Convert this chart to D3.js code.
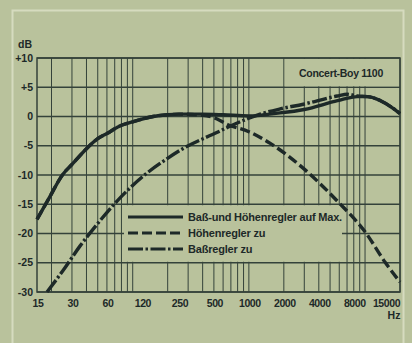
<!DOCTYPE html>
<html>
<head>
<meta charset="utf-8">
<script src="https://cdn.jsdelivr.net/npm/d3@7"></script>
<style>
  html, body { margin: 0; padding: 0; background: #b9c29c; }
  svg text { font-family: "Liberation Sans", Arial, sans-serif; font-weight: bold; fill: #1d2928; }
</style>
</head>
<body>
<div id="chart"></div>
<script>
// frequency response
var freqMax = [15, 19, 25, 30, 40, 50, 60, 80, 100, 150, 200, 250, 400, 600, 1000, 1250, 1500, 3000, 5800, 8600, 10500, 13600, 16600, 20000]
var dbMax   = [-17.6, -14.0, -9.9, -8.2, -5.5, -3.8, -2.9, -1.5, -0.9, 0.0, 0.3, 0.4, 0.4, 0.3, 0.1, 0.2, 0.4, 1.2, 2.7, 3.4, 3.4, 2.7, 1.7, 0.5]

var freqTreble = [15, 19, 25, 30, 40, 50, 60, 80, 100, 150, 200, 250, 400, 500, 660, 1000, 1530, 3000, 5800, 10000, 15000, 20000]
var dbTreble   = [-17.6, -14.0, -9.9, -8.2, -5.5, -3.8, -2.9, -1.5, -0.9, 0.0, 0.3, 0.4, 0.2, -0.2, -1.4, -2.6, -4.6, -9.0, -14.5, -19.7, -25.0, -28.3]

var freqBass = [18.3, 25.4, 35, 49, 73, 123, 198, 270, 535, 665, 1000, 1250, 1860, 2940, 5760, 7050, 8600, 10500, 13600, 16600, 20000]
var dbBass   = [-30, -26.2, -22.2, -18.5, -14.5, -10.2, -7.2, -5.5, -2.7, -1.8, -0.3, 0.4, 1.3, 2.1, 3.5, 3.8, 3.5, 3.4, 2.7, 1.7, 0.5]

var xTickLabels = [15, 30, 60, 120, 250, 500, 1000, 2000, 4000, 8000, 15000]
var yTickValues = [10, 5, 0, -5, -10, -15, -20, -25, -30]

var seriesNames = ["Baß-und Höhenregler auf Max.", "Höhenregler zu", "Baßregler zu"]

var W = 412, H = 343
var bg = "#b9c29c", ink = "#1d2928", gridInk = "#34423a"

var svg = d3.select("#chart").append("svg").attr("width", W).attr("height", H)
svg.append("rect").attr("width", W).attr("height", H).attr("fill", bg)
// light paper frame
svg.append("rect").attr("x", 12.5).attr("y", 10.5).attr("width", 391).attr("height", 345)
    .attr("fill", "none").attr("stroke", "#d6dbbf").attr("stroke-width", 2)

var x = d3.scaleLog().domain([15, 20000]).range([37, 400])
var y = d3.scaleLinear().domain([-30, 10]).range([292, 58])

var grid = svg.append("g")
grid.selectAll("line.v").data(x.ticks()).enter().append("line")
    .attr("x1", function(d) { return x(d) }).attr("x2", function(d) { return x(d) })
    .attr("y1", y(10)).attr("y2", y(-30))
    .attr("stroke", gridInk).attr("stroke-width", 1)
grid.selectAll("line.h").data(yTickValues).enter().append("line")
    .attr("x1", x(15)).attr("x2", x(20000))
    .attr("y1", function(d) { return y(d) }).attr("y2", function(d) { return y(d) })
    .attr("stroke", gridInk).attr("stroke-width", 1.4)

// blank patches for title and legend
svg.append("rect").attr("x", x(2000) + 1).attr("y", y(10) + 1)
    .attr("width", x(20000) - x(2000) - 2).attr("height", y(5) - y(10) - 2).attr("fill", bg)
svg.append("rect").attr("x", 124).attr("y", y(-15) + 1)
    .attr("width", 218).attr("height", y(-25) - y(-15) - 2).attr("fill", bg)

// frame
svg.append("rect").attr("x", x(15)).attr("y", y(10))
    .attr("width", x(20000) - x(15)).attr("height", y(-30) - y(10))
    .attr("fill", "none").attr("stroke", gridInk).attr("stroke-width", 1.5)

var line = d3.line().curve(d3.curveMonotoneX)
    .x(function(d) { return x(d[0]) }).y(function(d) { return y(d[1]) })

var dashes = [null, "10,4", "15,2.5,2.5,2.5"]
var data = [d3.zip(freqMax, dbMax), d3.zip(freqTreble, dbTreble), d3.zip(freqBass, dbBass)]

svg.selectAll("path.curve").data(data).enter().append("path")
    .attr("class", "curve")
    .attr("d", line)
    .attr("fill", "none").attr("stroke", ink).attr("stroke-width", 3.4)
    .attr("stroke-linecap", "butt")
    .attr("stroke-dasharray", function(d, i) { return dashes[i] })

// axes labels
svg.append("g").selectAll("text").data(yTickValues).enter().append("text")
    .attr("x", 33).attr("y", function(d) { return y(d) }).attr("dy", "0.35em")
    .attr("text-anchor", "end").attr("font-size", 10.5)
    .text(function(d) { return d > 0 ? "+" + d : d })
svg.append("text").attr("x", 25).attr("y", 44).attr("dy", "0.35em")
    .attr("text-anchor", "middle").attr("font-size", 10.5).text("dB")

svg.append("g").selectAll("text").data(xTickLabels).enter().append("text")
    .attr("x", function(d) { return x(d) + 1 }).attr("y", 303).attr("dy", "0.35em")
    .attr("text-anchor", "middle").attr("font-size", 10.5).attr("letter-spacing", -0.4)
    .text(function(d) { return d })
svg.append("text").attr("x", 394).attr("y", 315).attr("dy", "0.35em")
    .attr("text-anchor", "middle").attr("font-size", 10.5).text("Hz")

svg.append("text").attr("x", 341).attr("y", 73).attr("dy", "0.35em")
    .attr("text-anchor", "middle").attr("font-size", 10.5).attr("letter-spacing", -0.3)
    .text("Concert-Boy 1100")

// legend
var leg = svg.append("g").selectAll("g").data(seriesNames).enter().append("g")
    .attr("transform", function(d, i) { return "translate(0," + (217 + i * 16) + ")" })
leg.append("line").attr("x1", 128).attr("x2", 183)
    .attr("stroke", ink).attr("stroke-width", 3)
    .attr("stroke-dasharray", function(d, i) { return dashes[i] })
leg.append("text").attr("x", 188).attr("dy", "0.35em")
    .attr("font-size", 11).attr("letter-spacing", -0.2)
    .text(function(d) { return d })
</script>
</body>
</html>
